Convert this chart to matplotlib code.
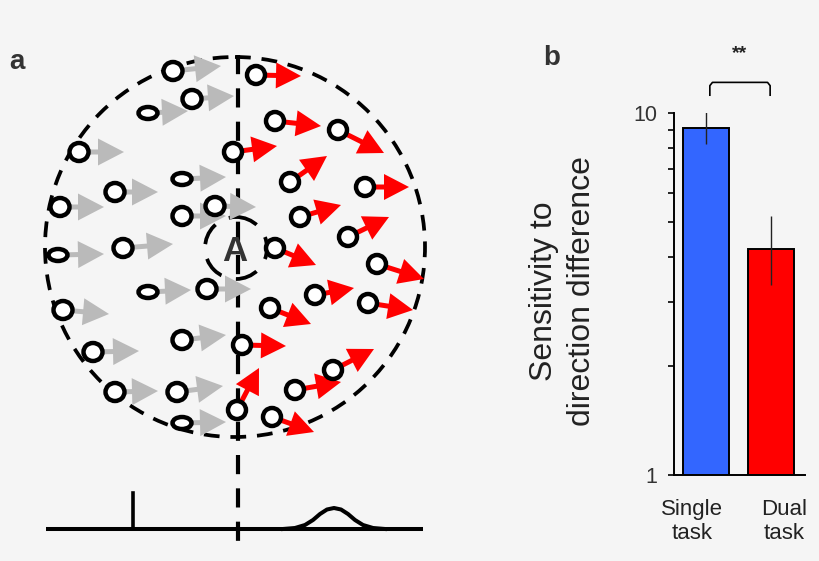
import matplotlib
matplotlib.use("Agg")
import matplotlib.pyplot as plt
from matplotlib.patches import Circle, Ellipse

plt.rcParams['font.family'] = ['Liberation Sans', 'DejaVu Sans']

# ---- panel a: dots (centre) and arrow tips, in picture pixels ----
grey_x = [173, 192, 148, 79, 182, 115, 60, 182, 215, 123, 58, 148, 207, 63, 182, 93, 115, 177, 182]
grey_y = [71, 99, 113, 152, 179, 192, 207, 216, 206, 248, 255, 292, 289, 310, 340, 352, 392, 392, 423]
grey_tip_x = [221, 234, 188, 124, 226, 158, 104, 226, 256, 173, 104, 191, 251, 109, 226, 139, 158, 223, 226]
grey_tip_y = [66, 96, 111, 152, 177, 192, 207, 216, 207, 244, 254, 290, 289, 314, 335, 351, 391, 386, 422]
grey_flat = [0, 0, 1, 0, 1, 0, 0, 0, 0, 0, 1, 1, 0, 0, 0, 0, 0, 0, 1]

red_x = [256, 275, 338, 233, 290, 365, 300, 348, 275, 377, 315, 368, 270, 242, 333, 295, 237, 272]
red_y = [75, 121, 130, 152, 182, 187, 217, 237, 248, 264, 295, 303, 308, 345, 370, 390, 410, 417]
red_tip_x = [301, 321, 384, 277, 327, 409, 341, 389, 316, 424, 354, 413, 311, 286, 374, 341, 259, 314]
red_tip_y = [76, 126, 153, 146, 156, 187, 205, 217, 265, 279, 288, 310, 324, 346, 349, 382, 368, 432]

# response distributions under the sketch
spike_x = 133
spike_h = 36
bump_x = [283, 295, 305, 313, 320, 327, 334, 341, 348, 355, 363, 373, 385]
bump_h = [0, 1, 4, 9, 15, 19.5, 21, 19.5, 15, 9, 4, 1, 0]

# ---- panel b: sensitivity ----
conditions = ['Single\ntask', 'Dual\ntask']
sensitivity = [9.1, 4.2]
err_low = [8.2, 3.35]
err_high = [10.1, 5.2]

bg = '#f5f5f5'
fig = plt.figure(figsize=(8.2, 5.61), dpi=100, facecolor=bg)

ax = fig.add_axes([0, 0, 1, 1])
ax.set_xlim(0, 820)
ax.set_ylim(561, 0)
ax.axis('off')

cx, cy = 235, 247
ax.add_patch(Circle((cx, cy), 190, fill=False, ec='black', lw=2.7,
                    linestyle=(0, (4.2, 2.9)), zorder=1))
ax.add_patch(Circle((236, 248), 31, fill=False, ec='black', lw=2.7,
                    linestyle=(0, (6, 4)), zorder=1))
ax.plot([238, 238], [55, 548], color='black', lw=3.0,
        linestyle=(0, (4.6, 3.4)), zorder=1)
ax.text(235, 251, 'A', fontsize=25, fontweight='bold', color='#333333',
        ha='center', va='center', zorder=1)


def draw_arrows(xs, ys, txs, tys, color, hw, hl):
    for x, y, tx, ty in zip(xs, ys, txs, tys):
        dx, dy = tx - x, ty - y
        d = (dx * dx + dy * dy) ** 0.5
        sx, sy = x + dx / d * 9, y + dy / d * 9
        ax.arrow(sx, sy, tx - sx, ty - sy, width=5, head_width=hw,
                 head_length=hl, length_includes_head=True, fc=color,
                 ec='none', zorder=2)


draw_arrows(grey_x, grey_y, grey_tip_x, grey_tip_y, '#bababa', 27, 26)
draw_arrows(red_x, red_y, red_tip_x, red_tip_y, '#ff0000', 26, 25)

for x, y, f in zip(grey_x, grey_y, grey_flat):
    ax.add_patch(Ellipse((x, y), 19, 12 if f else 18, fc='white', ec='black',
                         lw=3.2, zorder=3))
for x, y in zip(red_x, red_y):
    ax.add_patch(Ellipse((x, y), 18, 18, fc='white', ec='black', lw=3.2,
                         zorder=3))

base_y = 529
ax.plot([46, 423], [base_y, base_y], color='black', lw=2.9,
        solid_capstyle='butt', zorder=1)
ax.plot([spike_x, spike_x], [base_y, base_y - spike_h], color='black', lw=2.6,
        zorder=1)
ax.plot(bump_x, [base_y - h for h in bump_h], color='black', lw=2.9,
        solid_joinstyle='round', zorder=1)

fig.text(17 / 820, 1 - 62 / 561, 'a', fontsize=20, fontweight='bold',
         color='#333333', ha='center', va='center')
fig.text(552 / 820, 1 - 58 / 561, 'b', fontsize=20, fontweight='bold',
         color='#333333', ha='center', va='center')

# ---- panel b ----
axb = fig.add_axes([674 / 820, 1 - 475 / 561, 131 / 820, 362 / 561])
axb.set_facecolor('none')
xpos = [0, 1]
yerr = [[s - lo for s, lo in zip(sensitivity, err_low)],
        [hi - s for s, hi in zip(sensitivity, err_high)]]
axb.bar(xpos, sensitivity, width=0.71, color=['#3366ff', '#ff0000'],
        edgecolor='black', linewidth=1.4, zorder=2)
axb.errorbar(xpos, sensitivity, yerr=yerr, fmt='none', ecolor='#222222',
             elinewidth=1.0, capsize=0, zorder=3)
axb.set_yscale('log')
axb.set_ylim(1, 10)
axb.set_xlim(-0.49, 1.52)
axb.spines['top'].set_visible(False)
axb.spines['right'].set_visible(False)
axb.spines['left'].set_linewidth(1.4)
axb.spines['bottom'].set_linewidth(1.4)
axb.set_yticks([1, 10])
axb.set_yticklabels(['1', '10'])
axb.set_yticks([2, 3, 4, 5, 6, 7, 8, 9], minor=True)
axb.yaxis.set_minor_formatter(plt.NullFormatter())
axb.tick_params(axis='y', which='both', direction='out', length=4, width=1.2,
                labelsize=15.5, labelcolor='#333333', pad=8)
axb.set_xticks([-0.21, 1.2])
axb.set_xticklabels(conditions)
axb.tick_params(axis='x', length=0, labelsize=16, labelcolor='#222222', pad=17)

fig.text(563 / 820, 1 - 291 / 561, 'Sensitivity to\ndirection difference',
         rotation=90, ha='center', va='center', fontsize=23, linespacing=1.35,
         color='#222222')

# significance bracket
bx0, bx1 = 0.06, 0.985
axb.plot([bx0, bx0, bx0 + 0.04, bx1 - 0.04, bx1, bx1],
         [11.2, 11.9, 12.15, 12.15, 11.9, 11.2], color='black', lw=1.2,
         clip_on=False)
axb.text((bx0 + bx1) / 2, 14.6, '**', ha='center', va='center', fontsize=14,
         fontweight='bold', color='#222222')

fig.savefig('out.png', dpi=100, facecolor=bg)
